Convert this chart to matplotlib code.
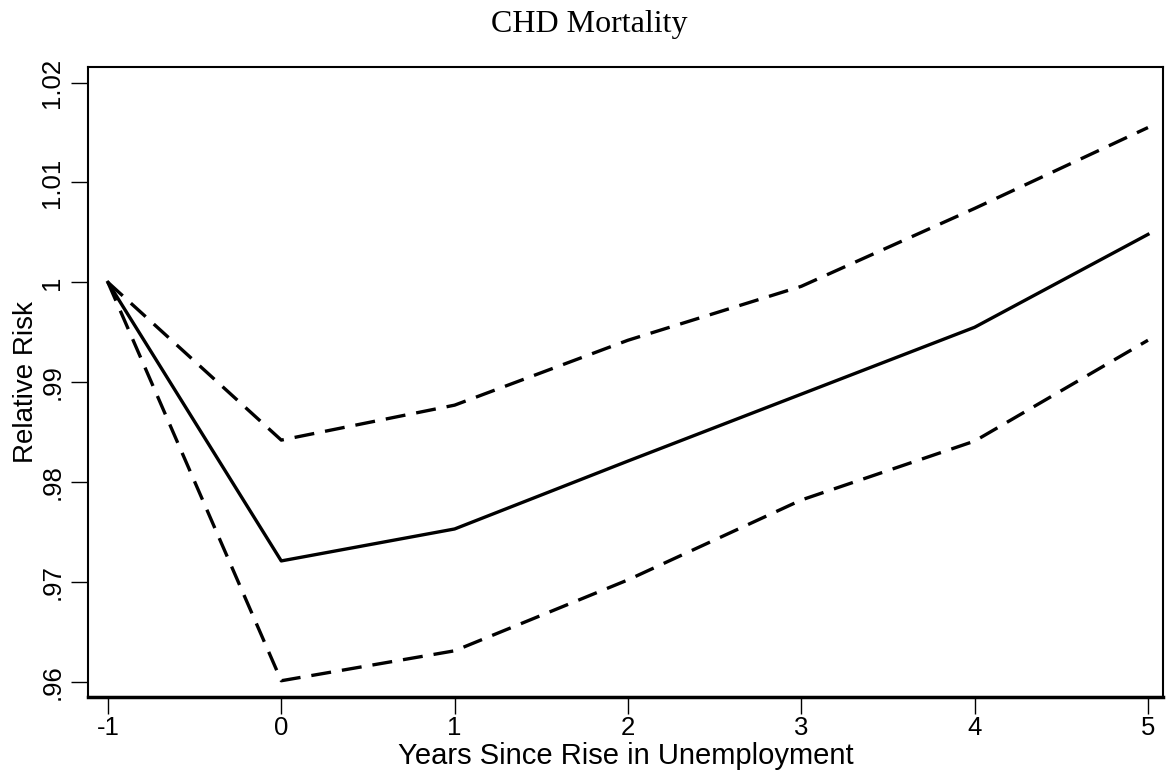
import matplotlib
matplotlib.use('Agg')
from matplotlib import pyplot as plt

years = [-1, 0, 1, 2, 3, 4, 5]
rr = [1.0, 0.9721, 0.9753, 0.9821, 0.9888, 0.9955, 1.0048]
upper = [1.0, 0.9842, 0.9877, 0.9942, 0.9996, 1.0074, 1.0155]
lower = [1.0, 0.9601, 0.9631, 0.9702, 0.9782, 0.9841, 0.9942]
yticks = [0.96, 0.97, 0.98, 0.99, 1.0, 1.01, 1.02]
yticklabels = ['.96', '.97', '.98', '.99', '1', '1.01', '1.02']

plt.rcParams['font.family'] = 'Liberation Sans'
plt.rcParams['axes.unicode_minus'] = False

fig = plt.figure(figsize=(11.67, 7.75), dpi=100)
ax = fig.add_axes([0.0754, 0.101, 0.9212, 0.813])

ax.plot(years, rr, color='black', lw=2.4)
ax.plot(years, upper, color='black', lw=2.4, dashes=(6, 3.3))
ax.plot(years, lower, color='black', lw=2.4, dashes=(6, 3.3))

ax.set_xlim(-1.115, 5.087)
ax.set_ylim(0.9585, 1.0216)
ax.set_xticks(years)
ax.set_yticks(yticks)
ax.set_yticklabels(yticklabels, rotation=90, va='center')
ax.tick_params(axis='both', length=12, width=1, labelsize=18.5, direction='out')
ax.tick_params(axis='y', pad=5)
ax.tick_params(axis='x', pad=2)
for s in ax.spines.values():
    s.set_linewidth(1.5)
ax.spines['bottom'].set_linewidth(2.5)

ax.set_xlabel('Years Since Rise in Unemployment', fontsize=21, labelpad=1)
ax.set_ylabel('Relative Risk', fontsize=20, labelpad=1)
fig.text(0.505, 1 - 32 / 775, 'CHD Mortality', fontsize=23, family='Liberation Serif',
         ha='center', va='baseline')

plt.savefig('out.png', dpi=100)
